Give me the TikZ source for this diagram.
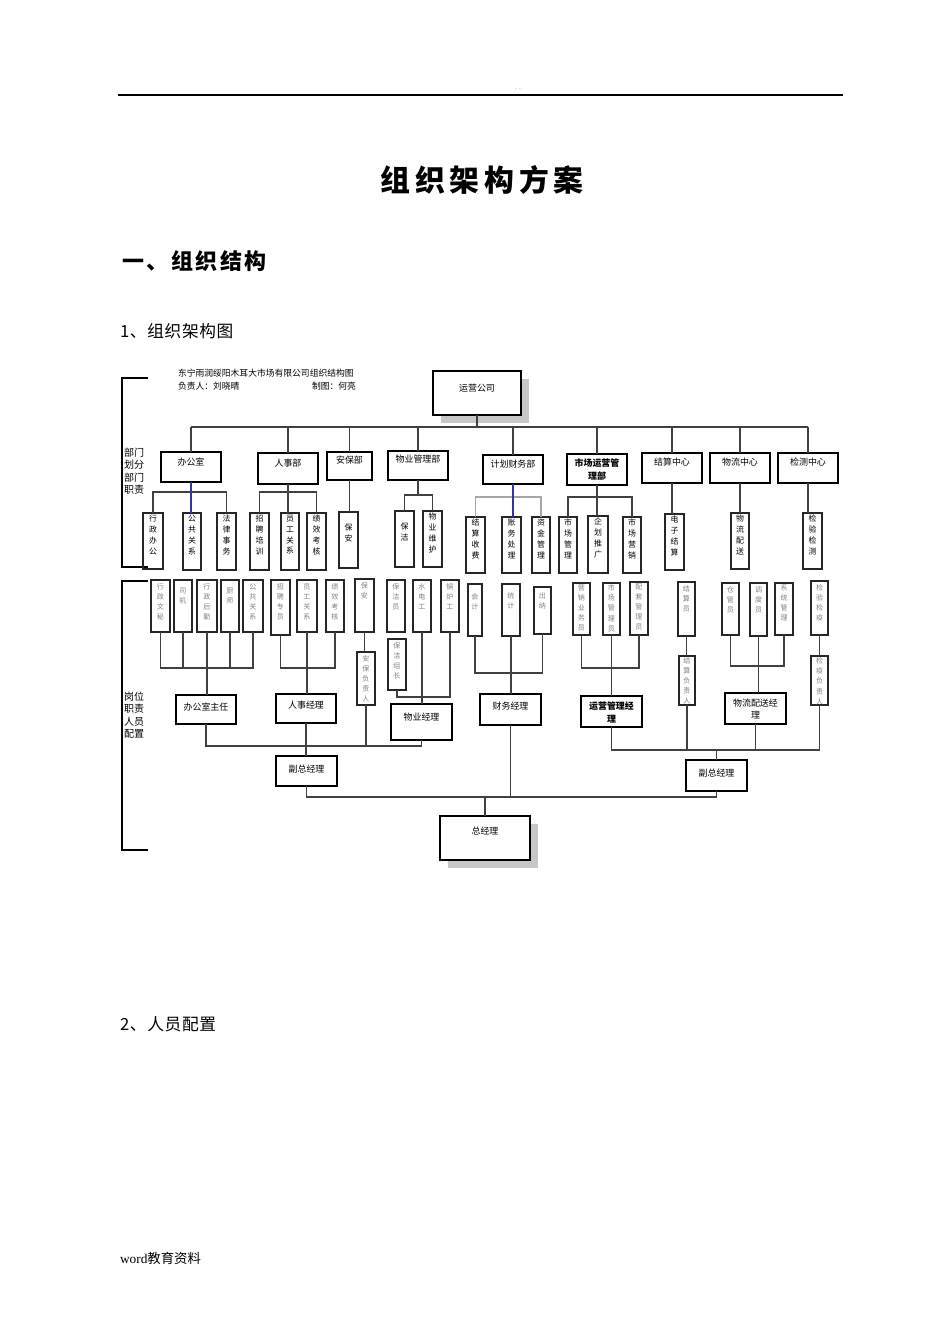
\documentclass[tikz,border=0pt]{standalone}
\usepackage{fontspec}
\setmainfont{Noto Sans CJK SC}
\newfontfamily\serifword{Liberation Serif}
\usepackage{tikz}
\usetikzlibrary{
  positioning,
  shadows
}
\newlength{\pxu}
\setlength{\pxu}{0.02cm}
% box text: width, height, top gap, text
\newcommand{\cell}[4]{\parbox[t][#2\pxu][t]{#1\pxu}{\centering\vspace*{#3\pxu}#4\par}}

\begin{document}
\begin{tikzpicture}[x=0.02cm, y=-0.02cm,
    every node/.style={inner sep=0pt, outer sep=0pt},
    dept/.style={draw, line width=1.3pt, fill=white, anchor=north west, font=\fontsize{5.1pt}{7pt}\selectfont},
    topbox/.style={dept, drop shadow={shadow xshift=0.16cm, shadow yshift=-0.16cm, fill=black!22, opacity=1}},
    func/.style={draw=black!85, line width=0.9pt, anchor=north west, font=\fontsize{4.5pt}{6.2pt}\selectfont},
    post/.style={draw=black!85, line width=0.8pt, anchor=north west, text=black!50, font=\fontsize{4pt}{5.7pt}\selectfont},
    link/.style={draw=black!75, line width=0.7pt},
    blink/.style={draw=blue!55!black!80, line width=0.7pt},
    side/.style={anchor=west, align=left, font=\fontsize{5.7pt}{7.1pt}\selectfont},
    small/.style={anchor=west, font=\fontsize{5pt}{6pt}\selectfont}]
\useasboundingbox (0,0) rectangle (945,1337);

% page text
\node [text=black!50, font=\fontsize{4pt}{4pt}\selectfont] (dots) at (518,89) {. .};
\draw [line width=0.6pt] (118,95) -- (843,95);
\node [font=\bfseries\fontsize{17pt}{20pt}\selectfont\addfontfeature{LetterSpace=16}] (title) at (482,180) {组织架构方案};
\node [anchor=west, font=\bfseries\fontsize{12.5pt}{15pt}\selectfont\addfontfeature{LetterSpace=12}] (sec1) at (122,261) {一、组织结构};
\node [anchor=west, font=\fontsize{9.5pt}{12pt}\selectfont\addfontfeature{LetterSpace=4}] (sub1) at (120,331) {1、组织架构图};
\node [anchor=west, font=\fontsize{9.5pt}{12pt}\selectfont\addfontfeature{LetterSpace=4}] (sub2) at (120,1024) {2、人员配置};
\node [anchor=west, font=\fontsize{7.6pt}{9pt}\selectfont] (foot) at (120,1258) {{\serifword word}教育资料};

% chart header and brackets
\node [small] (hd1) at (178,373) {东宁雨润绥阳木耳大市场有限公司组织结构图};
\node [small] (hd2) at (178,386) {负责人：刘晓晴};
\node [small] (hd3) at (312,386) {制图：何亮};
\draw [line width=0.7pt] (148,378) -- (122,378) -- (122,567) -- (148,567);
\draw [line width=0.7pt] (148,581) -- (122,581) -- (122,850) -- (148,850);
\node [side] (lab1) at (124,471) {部门\\划分\\部门\\职责};
\node [side] (lab2) at (124,715) {岗位\\职责\\人员\\配置};

% company and departments
\node [topbox] (yygs) at (433,371) {\cell{88}{44}{13}{运营公司}};
\node [dept] (bgs) at (161,452) {\cell{60}{30}{6}{办公室}};
\node [dept] (rsb) at (258,453) {\cell{60}{31}{6}{人事部}};
\node [dept] (abb) at (327,452) {\cell{45}{28}{4}{安保部}};
\node [dept] (wyb) at (388,451) {\cell{60}{29}{4}{物业管理部}};
\node [dept] (cwb) at (483,455) {\cell{60}{29}{5}{计划财务部}};
\node [dept] (yyb) at (567,454) {\cell{60}{31}{5}{\bfseries 市场运营管\\理部}};
\node [dept] (jszx) at (642,453) {\cell{60}{30}{5}{结算中心}};
\node [dept] (wlzx) at (710,453) {\cell{60}{30}{5}{物流中心}};
\node [dept] (jczx) at (778,453) {\cell{60}{30}{5}{检测中心}};

% functions
\node [func] (f1) at (143,513) {\cell{20}{56}{2}{行\\政\\办\\公}};
\node [func] (f2) at (183,513) {\cell{18}{57}{2}{公\\共\\关\\系}};
\node [func] (f3) at (217,513) {\cell{19}{57}{2}{法\\律\\事\\务}};
\node [func] (f4) at (250,513) {\cell{19}{57}{2}{招\\聘\\培\\训}};
\node [func] (f5) at (281,513) {\cell{18}{57}{2}{员\\工\\关\\系}};
\node [func] (f6) at (307,513) {\cell{19}{57}{2}{绩\\效\\考\\核}};
\node [func] (f7) at (339,512) {\cell{19}{56}{12}{保\\安}};
\node [func] (f8) at (395,511) {\cell{19}{56}{12}{保\\洁}};
\node [func] (f9) at (423,511) {\cell{19}{56}{2}{物\\业\\维\\护}};
\node [func] (f10) at (466,517) {\cell{19}{56}{2}{结\\算\\收\\费}};
\node [func] (f11) at (502,517) {\cell{19}{56}{2}{账\\务\\处\\理}};
\node [func] (f12) at (532,517) {\cell{18}{56}{2}{资\\金\\管\\理}};
\node [func] (f13) at (559,517) {\cell{18}{56}{2}{市\\场\\管\\理}};
\node [func] (f14) at (588,516) {\cell{20}{57}{2}{企\\划\\推\\广}};
\node [func] (f15) at (623,517) {\cell{18}{56}{2}{市\\场\\营\\销}};
\node [func] (f16) at (665,514) {\cell{19}{56}{2}{电\\子\\结\\算}};
\node [func] (f17) at (731,513) {\cell{18}{56}{2}{物\\流\\配\\送}};
\node [func] (f18) at (803,513) {\cell{19}{56}{2}{检\\验\\检\\测}};

% posts
\node [post] (p1) at (151,580) {\cell{19}{52}{4}{行\\政\\文\\秘}};
\node [post] (p2) at (174,580) {\cell{18}{52}{8}{司\\机}};
\node [post] (p3) at (197,580) {\cell{20}{52}{4}{行\\政\\后\\勤}};
\node [post] (p4) at (221,580) {\cell{18}{52}{8}{厨\\师}};
\node [post] (p5) at (243,580) {\cell{20}{52}{4}{公\\共\\关\\系}};
\node [post] (p6) at (271,580) {\cell{19}{55}{4}{招\\聘\\专\\员}};
\node [post] (p7) at (297,580) {\cell{20}{52}{4}{员\\工\\关\\系}};
\node [post] (p8) at (326,580) {\cell{18}{52}{4}{绩\\效\\考\\核}};
\node [post] (p9) at (355,579) {\cell{19}{53}{4}{保\\安}};
\node [post] (p10) at (387,580) {\cell{18}{52}{4}{保\\洁\\员}};
\node [post] (p11) at (413,580) {\cell{18}{52}{4}{水\\电\\工}};
\node [post] (p12) at (441,580) {\cell{18}{52}{4}{锅\\炉\\工}};
\node [post] (p13) at (357,652) {\cell{18}{53}{4}{安\\保\\负\\责\\人}};
\node [post] (p14) at (388,639) {\cell{18}{51}{4}{保\\洁\\组\\长}};
\node [post] (p15) at (468,584) {\cell{14}{52}{10}{会\\计}};
\node [post] (p16) at (502,584) {\cell{18}{52}{9}{统\\计}};
\node [post] (p17) at (534,587) {\cell{17}{47}{6}{出\\纳}};
\node [post] (p18) at (573,583) {\cell{17}{52}{2}{营\\销\\业\\务\\员}};
\node [post] (p19) at (603,583) {\cell{17}{52}{2}{市\\场\\管\\理\\员}};
\node [post] (p20) at (630,582) {\cell{18}{53}{2}{配\\套\\管\\理\\员}};
\node [post] (p21) at (678,582) {\cell{17}{54}{4}{结\\算\\员}};
\node [post] (p22) at (679,656) {\cell{16}{49}{2}{结\\算\\负\\责\\人}};
\node [post] (p23) at (722,583) {\cell{17}{52}{4}{仓\\管\\员}};
\node [post] (p24) at (750,583) {\cell{17}{53}{4}{调\\度\\员}};
\node [post] (p25) at (775,583) {\cell{18}{52}{2}{系\\统\\管\\理}};
\node [post] (p26) at (811,581) {\cell{17}{54}{4}{检\\验\\检\\疫}};
\node [post] (p27) at (811,656) {\cell{17}{49}{2}{检\\疫\\负\\责\\人}};

% managers
\node [dept] (m1) at (176,695) {\cell{60}{29}{8}{办公室主任}};
\node [dept] (m2) at (276,694) {\cell{60}{29}{7}{人事经理}};
\node [dept] (m3) at (391,704) {\cell{61}{36}{9}{物业经理}};
\node [dept] (m4) at (480,694) {\cell{61}{31}{8}{财务经理}};
\node [dept] (m5) at (581,696) {\cell{61}{31}{6}{\bfseries 运营管理经\\理}};
\node [dept] (m6) at (725,693) {\cell{61}{31}{6}{物流配送经\\理}};
\node [dept] (vp1) at (276,756) {\cell{61}{30}{9}{副总经理}};
\node [dept] (vp2) at (686,760) {\cell{61}{31}{9}{副总经理}};
\node [topbox] (ceo) at (440,816) {\cell{90}{44}{11}{总经理}};

% company to departments
\coordinate (bus0) at (0,427);
\draw [link] (yygs.south) -- (yygs.south |- bus0);
\draw [link] (bgs.north |- bus0) -- (jczx.north |- bus0);
\foreach \d in {bgs,rsb,abb,wyb,cwb,yyb,jszx,wlzx,jczx}
  \draw [link] (\d.north) -- (\d.north |- bus0);

% departments to functions
\coordinate (bus1) at (0,492);
\coordinate (bus2) at (0,495);
\coordinate (bus3) at (0,497);
\draw [link] (f1.north) -- (f1.north |- bus1) -- (f3.north |- bus1) -- (f3.north);
\draw [blink] (bgs.south) -- (bgs.south |- f2.north);
\draw [link] (f4.north) -- (f4.north |- bus1) -- (f6.north |- bus1) -- (f6.north);
\draw [link] (rsb.south) -- (rsb.south |- f5.north);
\draw [link] (abb.south) -- (abb.south |- f7.north);
\draw [link] (f8.north) -- (f8.north |- bus2) -- (f9.north |- bus2) -- (f9.north);
\draw [link] (wyb.south) -- (wyb.south |- bus2);
\draw [link, black!35] (f10.north) -- (f10.north |- bus3) -- (f12.north |- bus3) -- (f12.north);
\draw [blink] (cwb.south) -- (cwb.south |- f11.north);
\draw [link] (f13.north) -- (f13.north |- bus3) -- (f15.north |- bus3) -- (f15.north);
\draw [link] (yyb.south) -- (yyb.south |- f14.north);
\draw [link] (jszx.south) -- (jszx.south |- f16.north);
\draw [link] (wlzx.south) -- (wlzx.south |- f17.north);
\draw [link] (jczx.south) -- (jczx.south |- f18.north);

% posts to managers
\coordinate (bus4) at (0,668);
\coordinate (bus5) at (0,697);
\coordinate (bus6) at (0,673);
\coordinate (bus7) at (0,666);
\draw [link] (p1.south) -- (p1.south |- bus4) -- (p5.south |- bus4) -- (p5.south);
\foreach \p in {p2,p4}
  \draw [link] (\p.south) -- (\p.south |- bus4);
\draw [link] (p3.south) -- (p3.south |- m1.north);
\draw [link] (p6.south) -- (p6.south |- bus4) -- (p8.south |- bus4) -- (p8.south);
\draw [link] (p7.south) -- (p7.south |- m2.north);
\draw [link] (p9.south) -- (p9.south |- p13.north);
\draw [link] (p14.south) -- (p14.south |- bus5) -- (p12.south |- bus5) -- (p12.south);
\draw [link] (p11.south) -- (p11.south |- m3.north);
\draw [link] (p15.south) -- (p15.south |- bus6) -- (p17.south |- bus6) -- (p17.south);
\draw [link] (p16.south) -- (p16.south |- m4.north);
\draw [link] (p18.south) -- (p18.south |- bus4) -- (p20.south |- bus4) -- (p20.south);
\draw [link] (p19.south) -- (p19.south |- m5.north);
\draw [link] (p21.south) -- (p21.south |- p22.north);
\draw [link] (p23.south) -- (p23.south |- bus7) -- (p25.south |- bus7) -- (p25.south);
\draw [link] (p24.south) -- (p24.south |- m6.north);
\draw [link] (p26.south) -- (p26.south |- p27.north);

% managers to top
\coordinate (bus8) at (0,746);
\coordinate (bus9) at (0,750);
\coordinate (bus10) at (0,797);
\draw [link] (m1.south) -- (m1.south |- bus8) -- (m3.south |- bus8) -- (m3.south);
\draw [link] (p13.south) -- (p13.south |- bus8);
\draw [link] (m2.south) -- (m2.south |- vp1.north);
\draw [link] (m5.south) -- (m5.south |- bus9) -- (p27.south |- bus9) -- (p27.south);
\foreach \p in {p22,m6}
  \draw [link] (\p.south) -- (\p.south |- bus9);
\draw [link] (vp2.north |- bus9) -- (vp2.north);
\draw [link] (vp1.south) -- (vp1.south |- bus10) -- (vp2.south |- bus10) -- (vp2.south);
\draw [link] (m4.south) -- (m4.south |- bus10);
\draw [link] (ceo.north |- bus10) -- (ceo.north);
\end{tikzpicture}
\end{document}
